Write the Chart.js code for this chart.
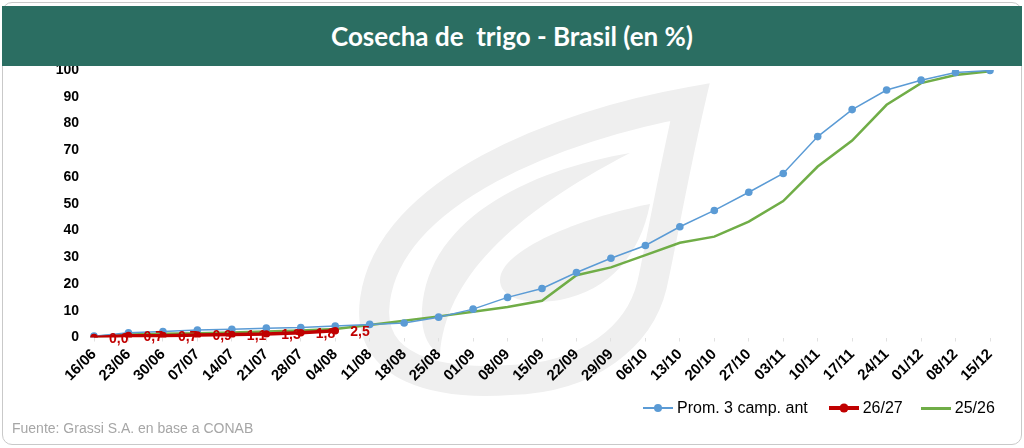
<!DOCTYPE html>
<html>
<head>
<meta charset="utf-8">
<script src="https://cdn.jsdelivr.net/npm/chart.js@4.4.1/dist/chart.umd.min.js"></script>
<style>
  html, body { margin:0; padding:0; background:#fff; }
  body { width:1024px; height:448px; position:relative; overflow:hidden; font-family:"Liberation Sans", Arial, sans-serif; }
  #card { position:absolute; left:2px; top:2px; width:1020px; height:443px; box-sizing:border-box; border:1px solid #c9c9c9; border-radius:10px; }
  #hdr { position:absolute; left:2px; top:6px; width:1020px; height:60px; background:#2b6e62; z-index:3;
         color:#fff; font-family:Lato, "Open Sans", sans-serif; font-weight:700; font-size:26px; line-height:60px; text-align:center; white-space:pre; }
  #cv { position:absolute; left:0; top:0; z-index:2; }
  #src { position:absolute; left:12px; top:420px; font-size:14px; color:#a6a6a6; z-index:4; }
  #legend { position:absolute; top:399px; left:643px; width:380px; height:18px; z-index:4; display:flex; align-items:center; font-size:16px; color:#000; white-space:nowrap; }
  .it { display:flex; align-items:center; margin-right:18px; flex-shrink:0; white-space:nowrap; }
  .it:first-child { margin-right:21px; }
  .ic { position:relative; width:30px; height:18px; margin-right:4px; flex-shrink:0; }
  .ic .ln { position:absolute; left:0; right:0; top:50%; }
  .ic .dt { position:absolute; left:50%; top:50%; border-radius:50%; transform:translate(-50%,-50%); }
</style>
</head>
<body>
<div id="card"></div>
<div id="hdr">Cosecha de  trigo - Brasil (en %)</div>
<canvas id="cv" width="1024" height="448"></canvas>
<div id="legend"></div>
<div id="src">Fuente: Grassi S.A. en base a CONAB</div>
<script>
const categories = ['16/06','23/06','30/06','07/07','14/07','21/07','28/07','04/08','11/08','18/08','25/08','01/09','08/09','15/09','22/09','29/09','06/10','13/10','20/10','27/10','03/11','10/11','17/11','24/11','01/12','08/12','15/12'];
const prom3Camp = [0.5,1.8,2.2,2.8,3.1,3.5,3.7,4.3,4.9,5.4,7.6,10.6,15.0,18.3,24.3,29.6,34.4,41.4,47.5,54.3,61.3,75.1,85.2,92.5,96.2,99.1,99.8];
const camp2627 = [0.0,0.7,0.7,0.9,1.1,1.3,1.8,2.5];
const camp2526 = [0.3,1.1,1.4,1.6,1.9,2.2,2.6,3.2,4.7,6.3,7.9,9.6,11.4,13.7,23.3,26.2,30.8,35.4,37.7,43.3,51.0,63.9,73.6,87.0,95.1,98.1,99.5];
const yTicks = [0,10,20,30,40,50,60,70,80,90,100];
const seriesNames = ['Prom. 3 camp. ant','26/27','25/26'];

const BLUE = '#5b9bd5', RED = '#c00000', GREEN = '#70ad47';

const watermark = {
  id:'watermark',
  beforeDraw(chart){
    const c = chart.ctx;
    c.save();
    c.fillStyle = '#efefef';
    c.strokeStyle = '#efefef';
    // outer band
    c.lineWidth = 30;
    c.lineJoin = 'miter';
    c.miterLimit = 20;
    c.beginPath();
    c.moveTo(690,102);
    c.bezierCurveTo(560,125,390,190,375,300);
    c.bezierCurveTo(365,370,440,385,510,380);
    c.bezierCurveTo(590,378,640,335,652,285);
    c.bezierCurveTo(662,240,672,180,690,102);
    c.closePath();
    c.stroke();
    // inner crescent
    c.beginPath();
    c.moveTo(630,153);
    c.bezierCurveTo(530,170,420,220,422,320);
    c.quadraticCurveTo(424,345,440,355);
    c.bezierCurveTo(445,280,510,215,630,153);
    c.closePath();
    c.fill();
    // inner teardrop
    c.beginPath();
    c.moveTo(650,204);
    c.bezierCurveTo(580,218,500,250,500,280);
    c.bezierCurveTo(500,300,530,305,560,300);
    c.bezierCurveTo(610,290,640,255,650,204);
    c.closePath();
    c.fill();
    c.restore();
  }
};

const redLabels = {
  id:'redLabels',
  afterDatasetsDraw(chart){
    const c = chart.ctx;
    const meta = chart.getDatasetMeta(1);
    c.save();
    c.font = 'bold 14px "Liberation Sans", Arial, sans-serif';
    c.fillStyle = RED;
    c.textAlign = 'left';
    c.textBaseline = 'middle';
    meta.data.forEach((pt,i)=>{
      const v = camp2627[i];
      if (v == null) return;
      c.fillText(v.toFixed(1).replace('.',','), pt.x + 15, pt.y + 1.5);
    });
    c.restore();
  }
};

new Chart(document.getElementById('cv'), {
  type:'line',
  data:{
    labels: categories,
    datasets:[
      { label:seriesNames[0], data:prom3Camp, borderColor:BLUE, backgroundColor:BLUE, borderWidth:1.5,
        pointRadius:3.8, pointBackgroundColor:BLUE, pointBorderWidth:0, tension:0, order:1 },
      { label:seriesNames[1], data:camp2627, borderColor:RED, backgroundColor:RED, borderWidth:3.5,
        pointRadius:3.8, pointBackgroundColor:RED, pointBorderWidth:0, tension:0, order:0 },
      { label:seriesNames[2], data:camp2526, borderColor:GREEN, backgroundColor:GREEN, borderWidth:2.5,
        pointRadius:0, tension:0, order:2 }
    ]
  },
  options:{
    responsive:false,
    animation:false,
    events:[],
    layout:{ autoPadding:false, padding:{ top:70, right:34, bottom:0, left:0 } },
    plugins:{ legend:{display:false}, tooltip:{enabled:false}, title:{display:false} },
    scales:{
      x:{
        offset:false,
        grid:{ display:true, drawOnChartArea:false, drawTicks:true, tickLength:4, color:'#e0e0e0' },
        border:{ display:false },
        ticks:{ autoSkip:false, minRotation:45, maxRotation:45, padding:4, color:'#000',
                font:{ family:'"Liberation Sans", Arial, sans-serif', size:15, weight:'bold' } },
        afterFit(s){ s.height = 110.5; }
      },
      y:{
        min:0, max:100,
        afterBuildTicks(s){ s.ticks = yTicks.map(v=>({value:v})); },
        grid:{ display:false, drawTicks:false },
        border:{ display:false },
        ticks:{ padding:15, color:'#000', font:{ family:'"Liberation Sans", Arial, sans-serif', size:14, weight:'bold' } },
        afterFit(s){ s.width = 94; }
      }
    }
  },
  plugins:[watermark, redLabels]
});

// HTML legend
const lg = document.getElementById('legend');
const styles = [
  {color:BLUE, lw:2, dot:8},
  {color:RED, lw:4, dot:9},
  {color:GREEN, lw:3, dot:0}
];
seriesNames.forEach((n,i)=>{
  const s = styles[i];
  const it = document.createElement('div'); it.className='it';
  const ic = document.createElement('div'); ic.className='ic';
  const ln = document.createElement('div'); ln.className='ln';
  ln.style.height = s.lw+'px'; ln.style.marginTop = (-s.lw/2)+'px'; ln.style.background = s.color;
  ic.appendChild(ln);
  if (s.dot){ const d=document.createElement('div'); d.className='dt'; d.style.width=s.dot+'px'; d.style.height=s.dot+'px'; d.style.background=s.color; ic.appendChild(d); }
  const tx = document.createElement('span'); tx.textContent = n;
  it.appendChild(ic); it.appendChild(tx); lg.appendChild(it);
});
</script>
</body>
</html>
